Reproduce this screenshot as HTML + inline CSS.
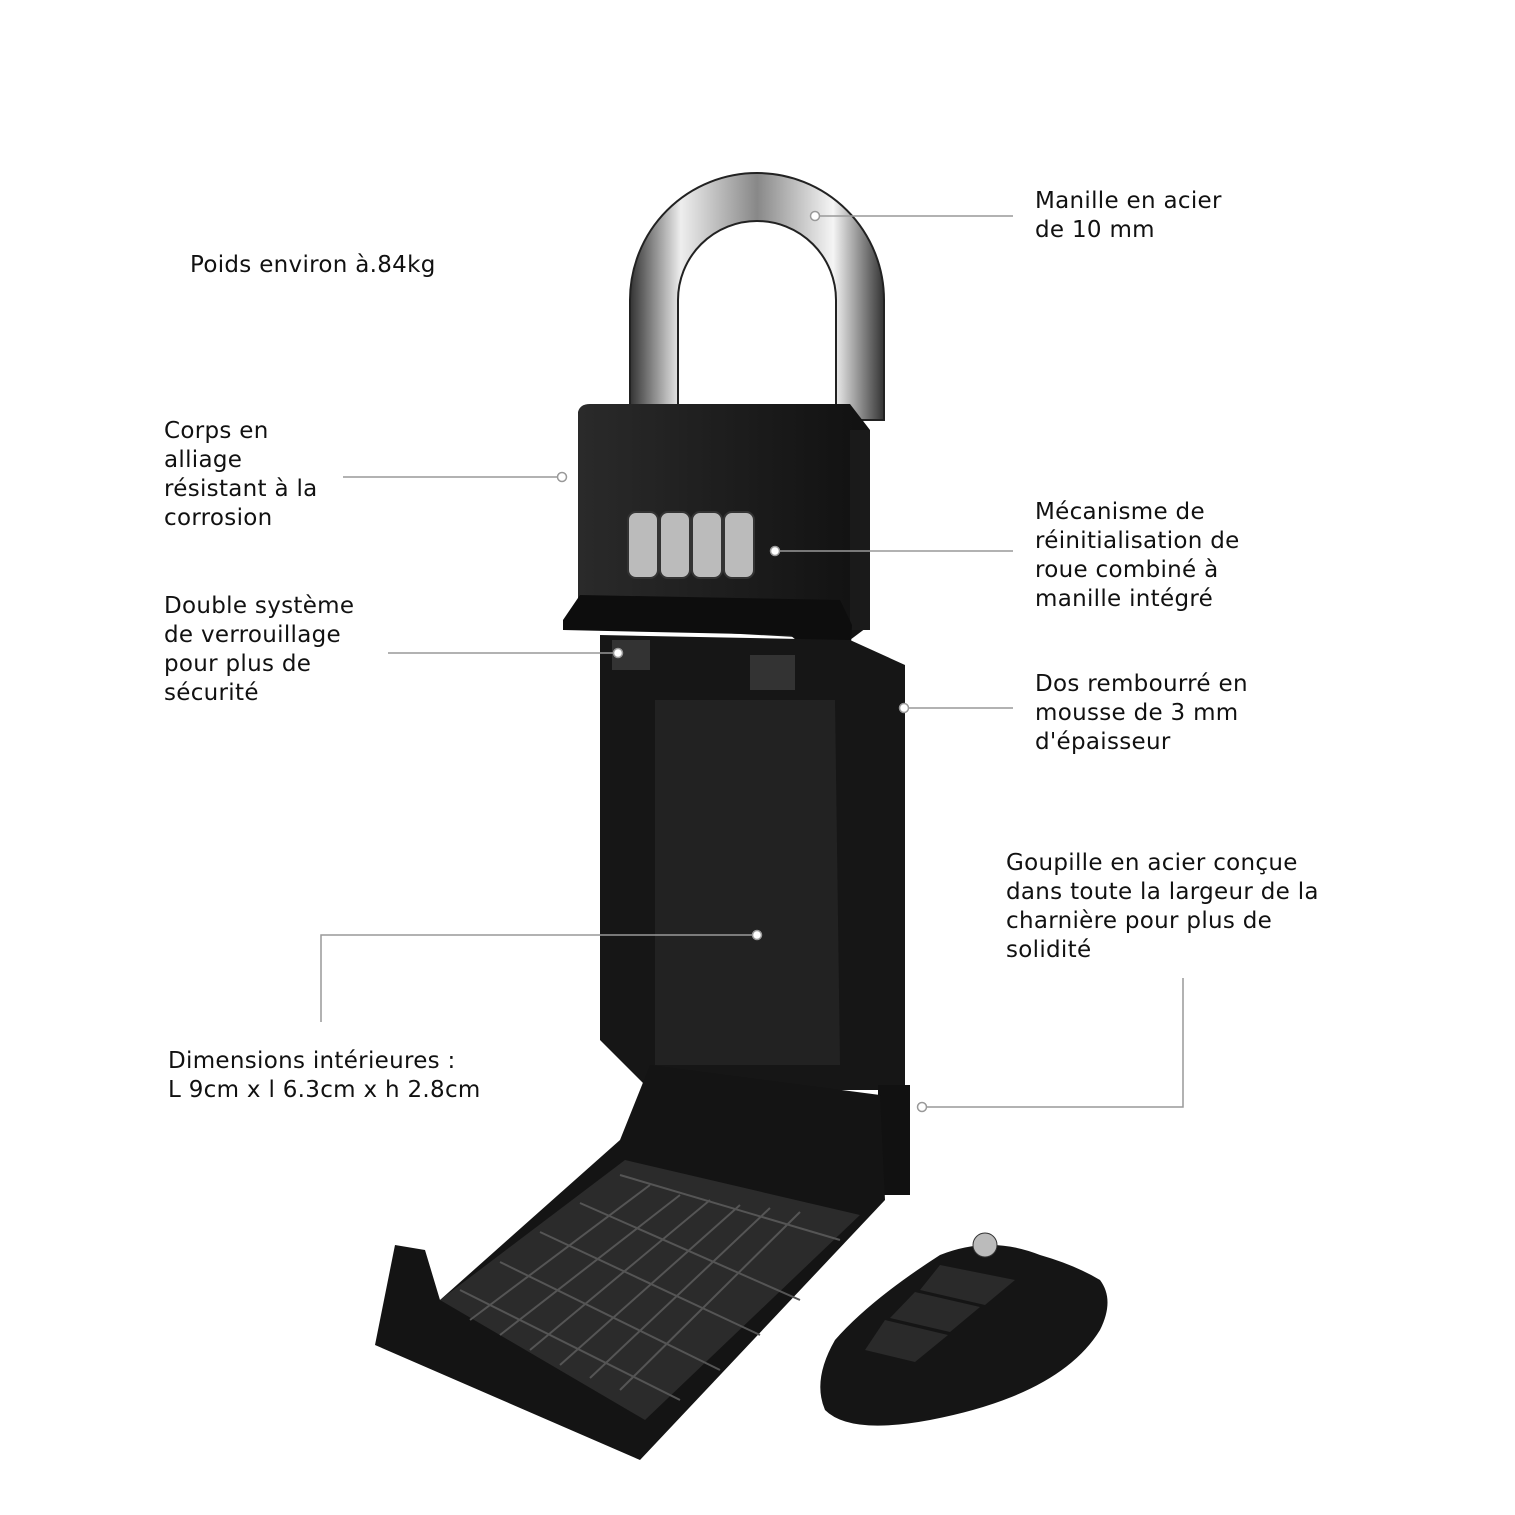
<!DOCTYPE html>
<html><head><meta charset="utf-8"><style>
html,body{margin:0;padding:0;background:#fff;}
.t{position:absolute;font-family:"DejaVu Sans","Liberation Sans",sans-serif;font-size:23px;letter-spacing:0.3px;line-height:29px;color:#111;white-space:nowrap;}
</style></head><body>
<div style="position:relative;width:1515px;height:1515px;overflow:hidden;">
<svg width="1515" height="1515" style="position:absolute;left:0;top:0">
<defs>
<linearGradient id="steel" x1="0" x2="1" y1="0" y2="0">
<stop offset="0" stop-color="#333"/><stop offset="0.2" stop-color="#eee"/><stop offset="0.5" stop-color="#888"/><stop offset="0.8" stop-color="#f5f5f5"/><stop offset="1" stop-color="#333"/>
</linearGradient>
<linearGradient id="body" x1="0" x2="1"><stop offset="0" stop-color="#2a2a2a"/><stop offset="1" stop-color="#111"/></linearGradient>
</defs>
<path d="M630 420 L630 300 A127 127 0 0 1 884 300 L884 420 L836 420 L836 300 A79 79 0 0 0 678 300 L678 420 Z" fill="url(#steel)" stroke="#222" stroke-width="2"/>
<path d="M578 412 Q580 404 590 404 L850 404 L870 430 L870 625 L850 640 L578 625 Z" fill="url(#body)"/>
<rect x="850" y="430" width="20" height="200" fill="#1a1a1a"/>
<g fill="#bbb" stroke="#333" stroke-width="2">
<rect x="628" y="512" width="30" height="66" rx="8"/><rect x="660" y="512" width="30" height="66" rx="8"/>
<rect x="692" y="512" width="30" height="66" rx="8"/><rect x="724" y="512" width="30" height="66" rx="8"/>
</g>
<path d="M563 620 L580 595 L840 600 L852 625 L850 665 L830 668 L790 635 L563 630 Z" fill="#0d0d0d"/>
<path d="M600 635 L850 640 L905 665 L905 1090 L650 1090 L600 1040 Z" fill="#161616"/>
<path d="M655 700 L835 700 L840 1065 L655 1065 Z" fill="#222"/>
<path d="M612 640 L650 640 L650 670 L612 670 Z" fill="#333"/>
<path d="M750 655 L795 655 L795 690 L750 690 Z" fill="#333"/>
<rect x="878" y="1085" width="32" height="110" fill="#111"/>
<path d="M650 1065 L880 1095 L885 1200 L640 1460 L375 1345 L395 1245 L425 1250 L440 1300 L620 1140 Z" fill="#141414"/>
<path d="M440 1300 L625 1160 L860 1215 L645 1420 Z" fill="#2b2b2b"/>
<g stroke="#555" stroke-width="2">
<line x1="470" y1="1320" x2="650" y2="1185"/><line x1="500" y1="1335" x2="680" y2="1195"/><line x1="530" y1="1350" x2="710" y2="1200"/><line x1="560" y1="1365" x2="740" y2="1205"/><line x1="590" y1="1378" x2="770" y2="1208"/><line x1="620" y1="1390" x2="800" y2="1212"/>
<line x1="460" y1="1290" x2="680" y2="1400"/><line x1="500" y1="1262" x2="720" y2="1370"/><line x1="540" y1="1232" x2="760" y2="1335"/><line x1="580" y1="1203" x2="800" y2="1300"/><line x1="620" y1="1175" x2="840" y2="1240"/>
</g>
<path d="M835 1340 Q870 1300 940 1255 Q990 1235 1040 1255 Q1075 1265 1100 1280 Q1115 1300 1100 1330 Q1060 1395 930 1420 Q850 1435 825 1410 Q812 1380 835 1340 Z" fill="#151515"/>
<g fill="#2a2a2a"><path d="M940 1265 L1015 1280 L985 1305 L920 1290 Z"/><path d="M915 1292 L980 1307 L950 1332 L890 1318 Z"/><path d="M885 1320 L948 1335 L915 1362 L865 1350 Z"/></g>
<circle cx="985" cy="1245" r="12" fill="#bbb" stroke="#333"/>
<g stroke="#999" stroke-width="1.5" fill="none">
<line x1="820" y1="216" x2="1013" y2="216"/>
<line x1="343" y1="477" x2="557" y2="477"/>
<line x1="780" y1="551" x2="1013" y2="551"/>
<line x1="388" y1="653" x2="613" y2="653"/>
<line x1="909" y1="708" x2="1013" y2="708"/>
<polyline points="321,1022 321,935 752,935"/>
<polyline points="927,1107 1183,1107 1183,978"/>
</g>
<g stroke="#999" stroke-width="1.5" fill="#fff">
<circle cx="815" cy="216" r="4.5"/><circle cx="562" cy="477" r="4.5"/><circle cx="775" cy="551" r="4.5"/>
<circle cx="618" cy="653" r="4.5"/><circle cx="904" cy="708" r="4.5"/><circle cx="757" cy="935" r="4.5"/><circle cx="922" cy="1107" r="4.5"/>
</g>
</svg>
<div class="t" style="left:1035px;top:187px">Manille en acier<br>de 10 mm</div>
<div class="t" style="left:190px;top:251px">Poids environ à.84kg</div>
<div class="t" style="left:164px;top:417px">Corps en<br>alliage<br>résistant à la<br>corrosion</div>
<div class="t" style="left:1035px;top:498px">Mécanisme de<br>réinitialisation de<br>roue combiné à<br>manille intégré</div>
<div class="t" style="left:164px;top:592px">Double système<br>de verrouillage<br>pour plus de<br>sécurité</div>
<div class="t" style="left:1035px;top:670px">Dos rembourré en<br>mousse de 3 mm<br>d'épaisseur</div>
<div class="t" style="left:1006px;top:849px">Goupille en acier conçue<br>dans toute la largeur de la<br>charnière pour plus de<br>solidité</div>
<div class="t" style="left:168px;top:1047px">Dimensions intérieures :<br>L 9cm x l 6.3cm x h 2.8cm</div>
</div>
</body></html>
